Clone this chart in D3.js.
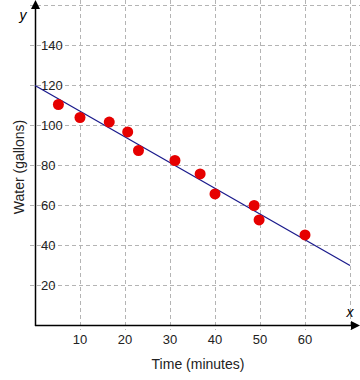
<!DOCTYPE html>
<html><head><meta charset="utf-8">
<script src="https://cdn.jsdelivr.net/npm/d3@7"></script>
<style>body{margin:0;background:#fff}text{font-family:Arial,"Liberation Sans",sans-serif}</style>
</head><body><svg id="c" width="360" height="380"></svg>
<script>
const timeMin = [5.2, 10, 16.5, 20.6, 23, 31.1, 36.7, 40, 48.7, 49.8, 60];
const waterGal = [110.5, 104, 101.7, 96.8, 87.5, 82.5, 75.8, 65.8, 60, 52.8, 45.3];
const fitLine = [[0, 120], [70, 30]];
const xTicks = [10, 20, 30, 40, 50, 60];
const yTicks = [20, 40, 60, 80, 100, 120, 140];
const xGrid = [10, 20, 30, 40, 50, 60, 70];
const yGrid = [20, 40, 60, 80, 100, 120, 140, 160];

const svg = d3.select("#c");
const x = d3.scaleLinear().domain([0, 70]).range([35, 350]);
const y = d3.scaleLinear().domain([0, 160]).range([325.5, 5.5]);

// grid
svg.append("g").selectAll("line").data(xGrid).join("line")
  .attr("x1", d => Math.round(x(d)) + 0.5).attr("x2", d => Math.round(x(d)) + 0.5)
  .attr("y1", 0).attr("y2", 330)
  .attr("stroke", "#b4b4b4").attr("stroke-dasharray", "4,3");
svg.append("g").selectAll("line").data(yGrid).join("line")
  .attr("y1", d => y(d)).attr("y2", d => y(d))
  .attr("x1", 30).attr("x2", 360)
  .attr("stroke", "#b4b4b4").attr("stroke-dasharray", "4,3");

// axes
svg.append("line").attr("x1", 35.5).attr("x2", 35.5).attr("y1", 6).attr("y2", 326)
  .attr("stroke", "#000").attr("stroke-width", 1.5);
svg.append("line").attr("x1", 35).attr("x2", 354).attr("y1", 325.5).attr("y2", 325.5)
  .attr("stroke", "#000").attr("stroke-width", 1.5);
svg.append("path").attr("d", "M35.5,0 L31,9 L40,9 Z").attr("fill", "#000");
svg.append("path").attr("d", "M360,325.5 L351,321 L351,330 Z").attr("fill", "#000");

// tick labels
svg.append("g").selectAll("text").data(yTicks).join("text")
  .attr("x", 41).attr("y", d => y(d)).attr("dy", "0.35em")
  .attr("font-size", 13).attr("fill", "#222").text(d => d);
svg.append("g").selectAll("text").data(xTicks).join("text")
  .attr("x", d => x(d)).attr("y", 344).attr("text-anchor", "middle")
  .attr("font-size", 13).attr("fill", "#222").text(d => d);

// axis letters
svg.append("text").attr("x", 23).attr("y", 20).attr("font-style", "italic")
  .attr("font-size", 14).attr("text-anchor", "middle").text("y");
svg.append("text").attr("x", 350).attr("y", 317).attr("font-style", "italic")
  .attr("font-size", 14).attr("text-anchor", "middle").text("x");

// titles
svg.append("text").attr("x", 198).attr("y", 369).attr("text-anchor", "middle")
  .attr("font-size", 14).attr("fill", "#222").text("Time (minutes)");
svg.append("text").attr("transform", "translate(24,167) rotate(-90)")
  .attr("text-anchor", "middle").attr("font-size", 14).attr("fill", "#222").text("Water (gallons)");

// fit line
svg.append("path").datum(fitLine)
  .attr("d", d3.line().x(d => x(d[0])).y(d => y(d[1])))
  .attr("stroke", "#1a1a8c").attr("stroke-width", 1.3).attr("fill", "none");

// points
svg.append("g").selectAll("circle").data(timeMin).join("circle")
  .attr("cx", d => x(d)).attr("cy", (d, i) => y(waterGal[i]))
  .attr("r", 5.5).attr("fill", "#e60000");
</script></body></html>
